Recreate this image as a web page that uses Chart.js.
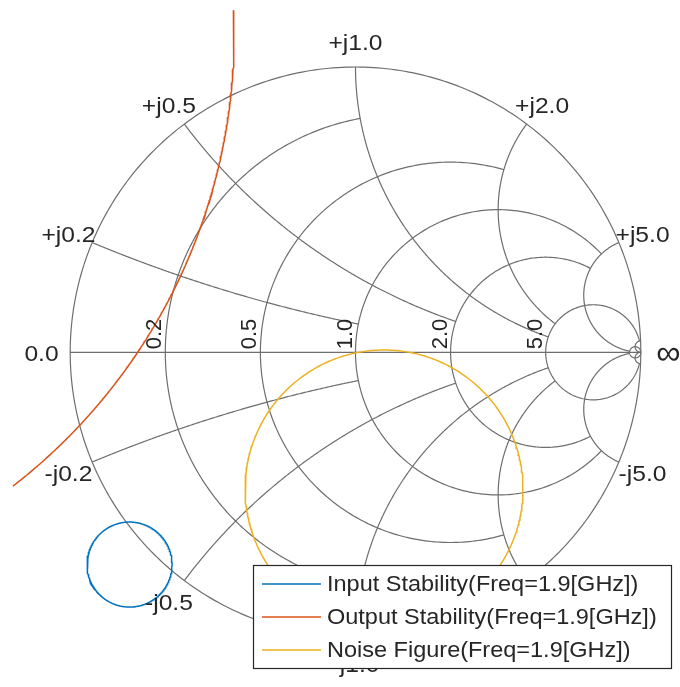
<!DOCTYPE html>
<html>
<head>
<meta charset="utf-8">
<script src="https://cdn.jsdelivr.net/npm/chart.js@4.4.1/dist/chart.umd.min.js"></script>
<style>
  html, body { margin: 0; padding: 0; background: #fff; }
</style>
</head>
<body>
<canvas id="smith" width="680" height="687"></canvas>
<script>
// Smith chart grid (values and how far each grid line runs)
const gridValues = [0.2, 0.5, 1, 2, 5, 50];
const gridLimits = [1, 2, 5, 5, 50, Infinity];
const labelValues = [0.2, 0.5, 1, 2, 5];

// circles in the reflection-coefficient plane
const seriesNames = [
  "Input Stability(Freq=1.9[GHz])",
  "Output Stability(Freq=1.9[GHz])",
  "Noise Figure(Freq=1.9[GHz])"
];
const centerRe = [-0.792, -2.427, 0.100];
const centerIm = [-0.744, 1.112, -0.479];
const radii = [0.149, 2.001, 0.487];
// visible part of each circle (degrees)
const arcFrom = [0, 2.5, 0];
const arcTo = [360, -52.2, 360];

const TEXT = "#262626";
const GRID = "#6e6e6e";
const FONT = '22px "Liberation Sans", Arial, Helvetica, sans-serif';

// z = r + jx  ->  gamma
function toGamma(r, x) {
  const d = (r + 1) * (r + 1) + x * x;
  return [(r * r + x * x - 1) / d, (2 * x) / d];
}

function arcPts(cx, cy, rad, a0, a1, n = 240) {
  const pts = [];
  for (let k = 0; k <= n; k++) {
    const a = a0 + (a1 - a0) * k / n;
    pts.push([cx + rad * Math.cos(a), cy + rad * Math.sin(a)]);
  }
  return pts;
}

// text stretched a little sideways, like the original renderer
function wideText(ctx, txt, x, y, sx) {
  ctx.save();
  ctx.translate(x, y);
  ctx.scale(sx, 1);
  ctx.fillText(txt, 0, 0);
  ctx.restore();
}

const smithGrid = {
  id: "smithGrid",
  beforeDatasetsDraw(chart) {
    const { ctx, scales: { x, y } } = chart;
    const px = (re, im) => [x.getPixelForValue(re), y.getPixelForValue(im)];
    const poly = pts => {
      ctx.beginPath();
      pts.forEach(([re, im], k) => {
        const [a, b] = px(re, im);
        k ? ctx.lineTo(a, b) : ctx.moveTo(a, b);
      });
      ctx.stroke();
    };
    ctx.save();
    ctx.strokeStyle = GRID;
    ctx.lineWidth = 1.2;
    poly(arcPts(0, 0, 1, 0, 2 * Math.PI, 400));
    poly([[-1, 0], [1, 0]]);

    gridValues.forEach((v, i) => {
      const lim = gridLimits[i];
      // constant resistance circle
      const c = v / (1 + v), rad = 1 / (1 + v);
      let a = 0;
      if (isFinite(lim)) {
        const g = toGamma(v, lim);
        a = Math.atan2(g[1], g[0] - c);
      }
      poly(arcPts(c, 0, rad, a, 2 * Math.PI - a));

      // constant reactance arcs +/- v
      const g0 = toGamma(0, v);
      const g1 = isFinite(lim) ? toGamma(lim, v) : [1, 0];
      const a0 = Math.atan2(g0[1] - 1 / v, g0[0] - 1);
      let a1 = Math.atan2(g1[1] - 1 / v, g1[0] - 1);
      while (a1 < a0) a1 += 2 * Math.PI;
      const pts = arcPts(1, 1 / v, 1 / v, a0, a1, 300);
      poly(pts);
      poly(pts.map(([re, im]) => [re, -im]));
    });
    ctx.restore();
  }
};

const smithLabels = {
  id: "smithLabels",
  afterDatasetsDraw(chart) {
    const { ctx, scales: { x, y } } = chart;
    const px = (re, im) => [x.getPixelForValue(re), y.getPixelForValue(im)];
    const rl = 1.09, dy = 3, sx = 1.12;
    ctx.save();
    ctx.font = FONT;
    ctx.fillStyle = TEXT;
    ctx.textAlign = "center";
    ctx.textBaseline = "middle";
    labelValues.forEach(v => {
      const g = toGamma(0, v);
      [1, -1].forEach(s => {
        const [a, b] = px(g[0] * rl, s * g[1] * rl);
        wideText(ctx, (s > 0 ? "+j" : "-j") + v.toFixed(1), a, b + dy, sx);
      });
    });
    let p = px(-rl, 0);
    wideText(ctx, "0.0", p[0] - 3, p[1] + dy, sx);
    p = px(rl, 0);
    ctx.font = '34px "Liberation Sans", Arial, sans-serif';
    ctx.fillText("\u221E", p[0] + 2, p[1] + 2);
    ctx.font = FONT;

    // resistance labels, rotated, just left of each circle
    labelValues.forEach(v => {
      const [a, b] = px((v - 1) / (v + 1), 0);
      ctx.save();
      ctx.translate(a - 4, b - 3);
      ctx.rotate(-Math.PI / 2);
      ctx.textAlign = "left";
      ctx.textBaseline = "alphabetic";
      ctx.fillText(v.toFixed(1), 0, 0);
      ctx.restore();
    });
    ctx.restore();
  }
};

const boxLegend = {
  id: "boxLegend",
  afterDraw(chart) {
    const { ctx } = chart;
    const bx = 253, by = 565, bw = 418, bh = 103;
    ctx.save();
    ctx.fillStyle = "#fff";
    ctx.fillRect(bx, by, bw, bh);
    ctx.strokeStyle = TEXT;
    ctx.lineWidth = 1.2;
    ctx.strokeRect(bx + 0.5, by + 0.5, bw, bh);
    ctx.font = FONT;
    ctx.textAlign = "left";
    ctx.textBaseline = "middle";
    chart.data.datasets.forEach((ds, i) => {
      const yy = 584 + i * 33;
      ctx.strokeStyle = ds.borderColor;
      ctx.lineWidth = 1.5;
      ctx.beginPath();
      ctx.moveTo(262, yy);
      ctx.lineTo(321, yy);
      ctx.stroke();
      ctx.fillStyle = TEXT;
      wideText(ctx, ds.label, 327, yy + 1, 1.068);
    });
    ctx.restore();
  }
};

const colors = ["#0072BD", "#D95319", "#EDB120"];
const datasets = seriesNames.map((name, i) => {
  const a0 = arcFrom[i] * Math.PI / 180, a1 = arcTo[i] * Math.PI / 180;
  return {
    label: name,
    data: arcPts(centerRe[i], centerIm[i], radii[i], a0, a1, 360).map(([re, im]) => ({ x: re, y: im })),
    showLine: true,
    borderColor: colors[i],
    borderWidth: 1.5,
    pointRadius: 0,
    fill: false,
    tension: 0
  };
});

// gamma = 0 sits at (355.5, 352.3), unit circle radius 285.3 px
const R = 285.3, CX = 355.5, CY = 352.3, W = 680, H = 687;

new Chart(document.getElementById("smith"), {
  type: "scatter",
  data: { datasets },
  options: {
    responsive: false,
    animation: false,
    devicePixelRatio: 1,
    layout: { padding: 0 },
    scales: {
      x: { type: "linear", min: -CX / R, max: (W - CX) / R, display: false },
      y: { type: "linear", min: -(H - CY) / R, max: CY / R, display: false }
    },
    plugins: {
      legend: { display: false },
      tooltip: { enabled: false }
    }
  },
  plugins: [smithGrid, smithLabels, boxLegend]
});
</script>
</body>
</html>
